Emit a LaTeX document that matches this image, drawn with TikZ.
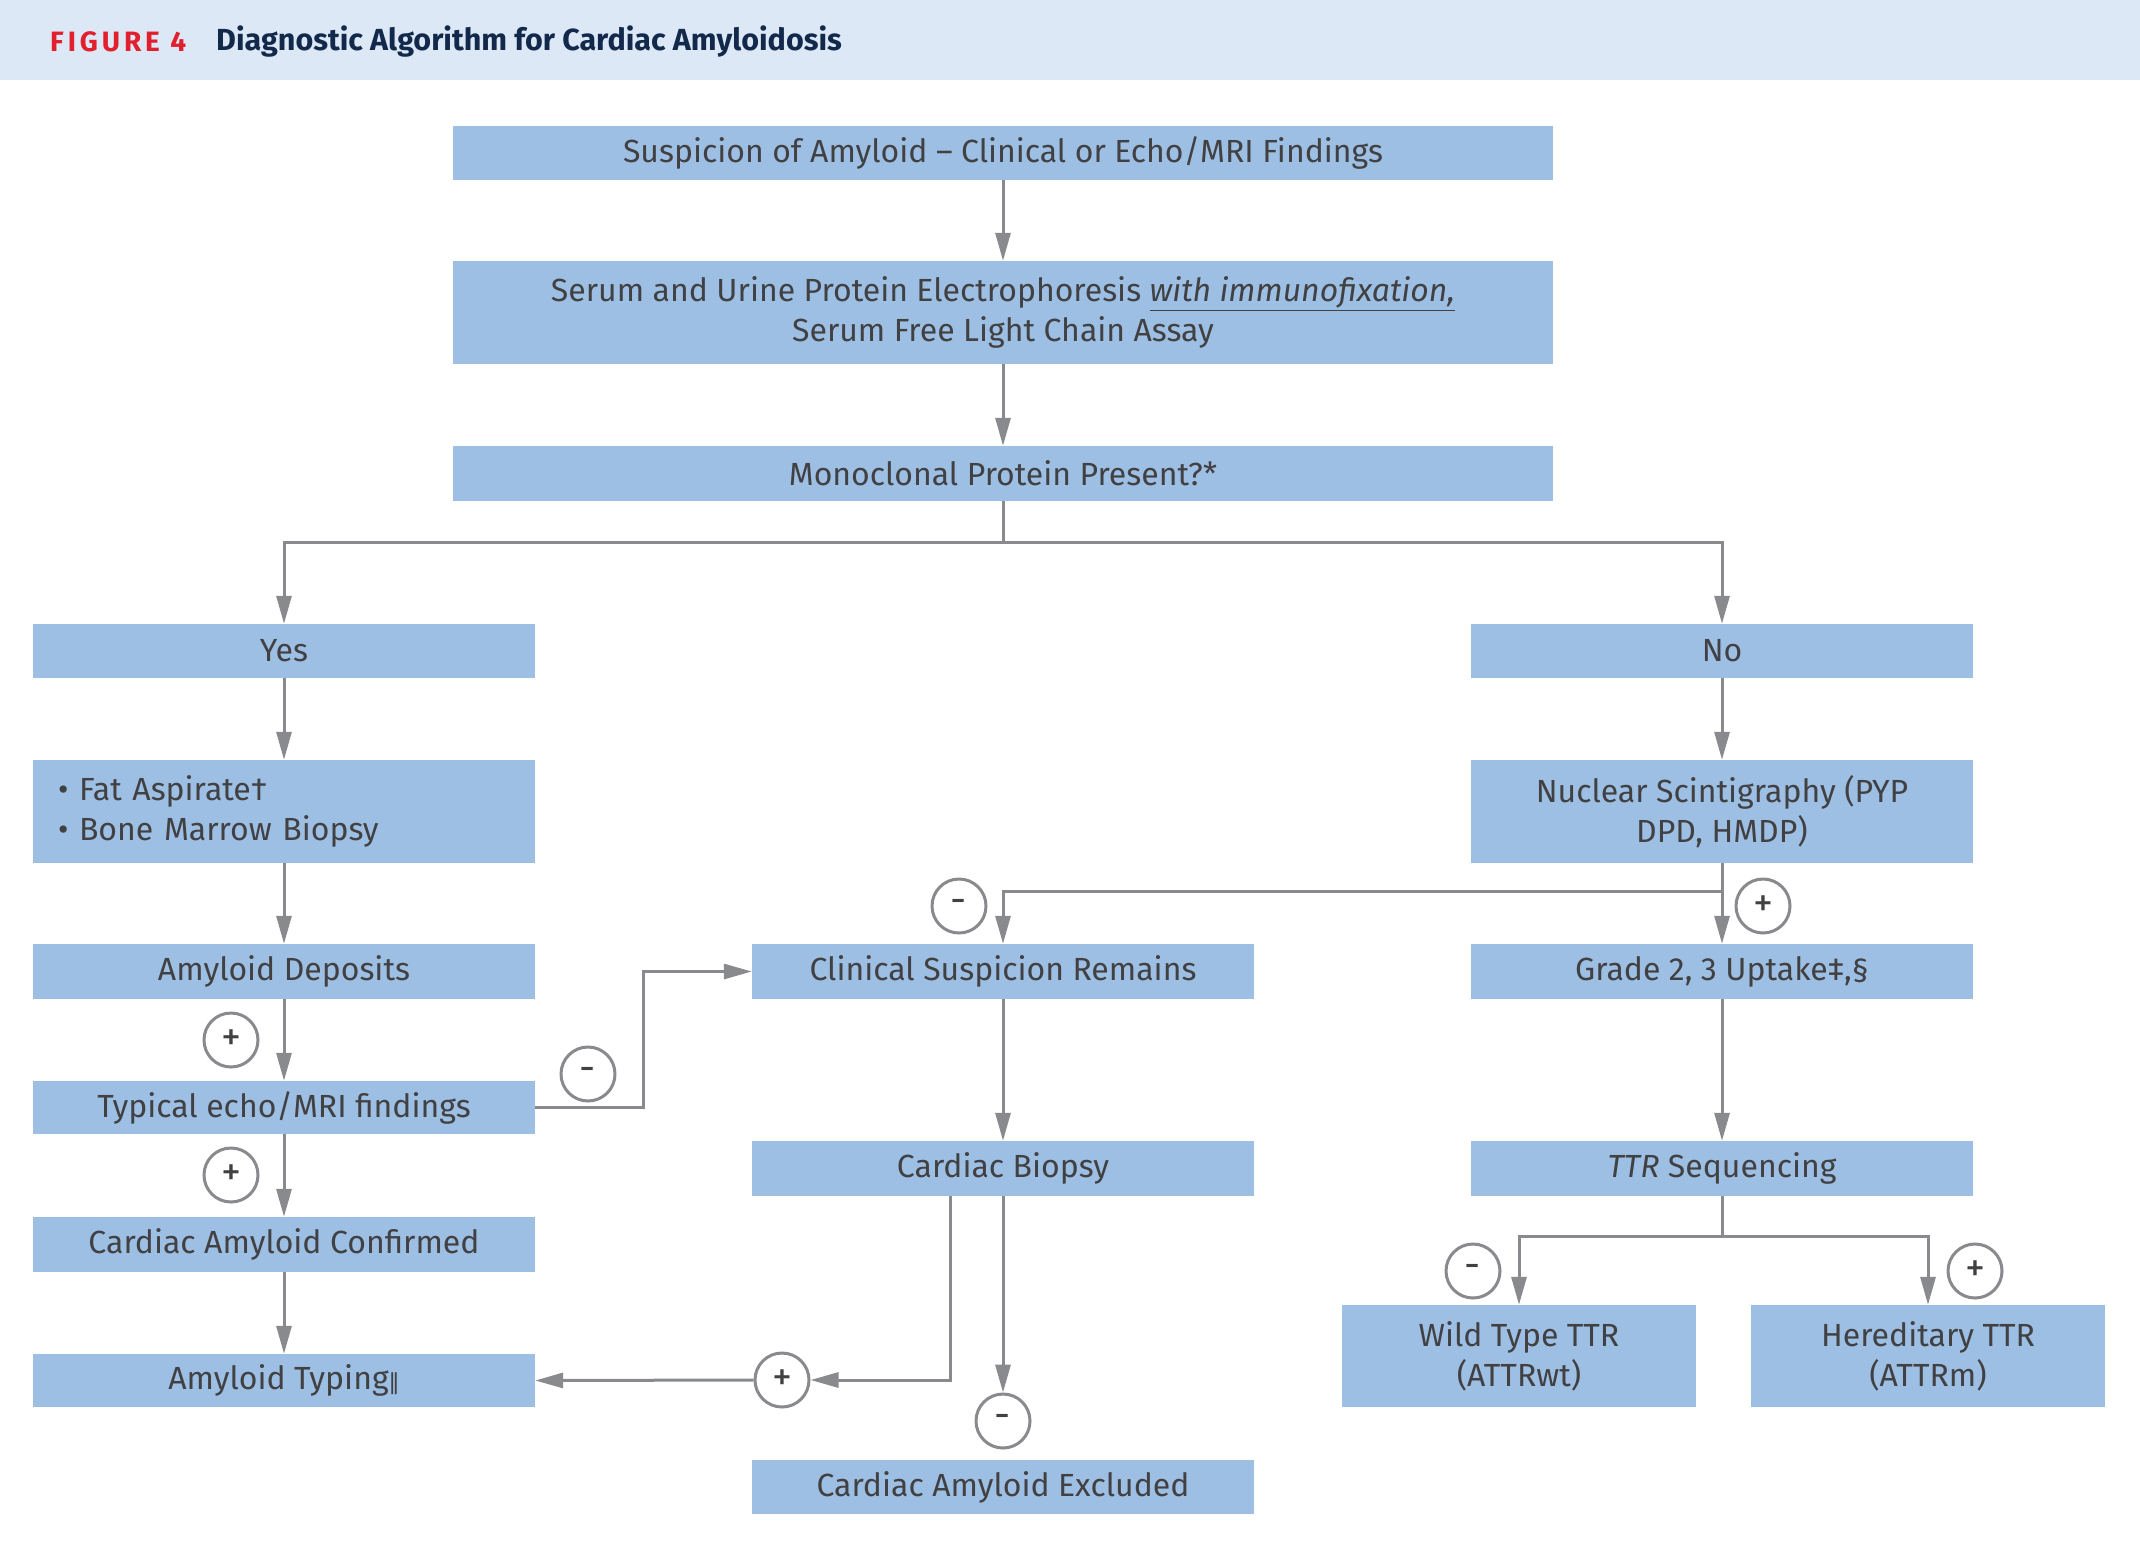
\documentclass[tikz,border=0pt]{standalone}
\usepackage{fontspec}
\setmainfont{Fira Sans}
\newfontfamily\symfont{DejaVu Sans}
\usetikzlibrary{arrows.meta,positioning}
\definecolor{boxblue}{HTML}{9DBFE3}
\definecolor{bandblue}{HTML}{DCE8F5}
\definecolor{txtgray}{HTML}{414042}
\definecolor{linegray}{HTML}{898A8D}
\definecolor{figred}{HTML}{E21F2D}
\definecolor{navy}{HTML}{13294B}

\begin{document}
\begin{tikzpicture}[x=1pt,y=-1pt,
      box/.style={fill=boxblue,minimum width=502pt,minimum height=54pt,align=center,inner sep=0pt,text=txtgray,font=\fontsize{32}{40}\selectfont},
      wide/.style={box,minimum width=1100pt},
      sign/.style={circle,draw=linegray,line width=3pt,fill=white,minimum size=54pt,inner sep=0pt,text=txtgray,font=\fontsize{40}{40}\selectfont},
      link/.style={draw=linegray,line width=3pt},
      >={Triangle[length=28pt,width=15pt]}
    ]
      \useasboundingbox (0,0) rectangle (2140,1558);

      % Title band
      \fill[bandblue] (0,0) rectangle (2140,80);
      \node[anchor=west,inner sep=0pt,text=figred,font=\fontsize{28}{28}\selectfont\bfseries\addfontfeature{LetterSpace=14}] (fig) at (50,42) {FIGURE 4};
      \node[anchor=west,inner sep=0pt,text=navy,font=\fontsize{30.5}{30.5}\selectfont\bfseries] (title) at (216,42) {Diagnostic Algorithm for Cardiac Amyloidosis};

      % Common trunk
      \node[wide] (susp) at (1003,153) {Suspicion of Amyloid – Clinical or Echo/MRI Findings};
      \node[wide,minimum height=103pt] (spep) at (1003,312.5) {Serum and Urine Protein Electrophoresis \underline{\itshape with immunofixation,}\\ Serum Free Light Chain Assay};
      \node[wide,minimum height=55pt] (mono) at (1003,473.5) {Monoclonal Protein Present?*};

      % Left column (Yes)
      \node[box] (yes) at (284,651) {Yes};
      \node[box,minimum height=103pt,text width=452pt,align=left] (fat) at (284,811.5) {• Fat Aspirate†\\ • Bone Marrow Biopsy};
      \node[box,minimum height=55pt] (dep) at (284,971.5) {Amyloid Deposits};
      \node[box,minimum height=53pt] (echo) at (284,1107.5) {Typical echo/MRI findings};
      \node[box,minimum height=55pt] (conf) at (284,1244.5) {Cardiac Amyloid Confirmed};
      \node[box,minimum height=53pt] (typing) at (284,1380.5) {Amyloid Typing{\symfont\fontsize{22}{22}\selectfont ‖}};

      % Middle column
      \node[box,minimum height=55pt] (csr) at (1003,971.5) {Clinical Suspicion Remains};
      \node[box,minimum height=55pt] (cbx) at (1003,1168.5) {Cardiac Biopsy};
      \node[box] (excl) at (1003,1487) {Cardiac Amyloid Excluded};

      % Right column (No)
      \node[box] (no) at (1722,651) {No};
      \node[box,minimum height=103pt] (nuc) at (1722,811.5) {Nuclear Scintigraphy (PYP\\ DPD, HMDP)};
      \node[box,minimum height=55pt] (grade) at (1722,971.5) {Grade 2, 3 Uptake‡,§};
      \node[box,minimum height=55pt] (ttr) at (1722,1168.5) {\textit{TTR} Sequencing};
      \node[box,minimum width=354pt,minimum height=102pt] (wild) at (1519,1356) {Wild Type TTR\\ (ATTRwt)};
      \node[box,minimum width=354pt,minimum height=102pt] (hered) at (1928,1356) {Hereditary TTR\\ (ATTRm)};

      % Result signs
      \node[sign] (s1) at (959,906) {-};
      \node[sign] (s2) at (1763,906) {+};
      \node[sign] (s3) at (231,1040) {+};
      \node[sign] (s4) at (231,1175) {+};
      \node[sign] (s5) at (588,1074) {-};
      \node[sign] (s6) at (782,1380) {+};
      \node[sign] (s7) at (1003,1421) {-};
      \node[sign] (s8) at (1473,1271) {-};
      \node[sign] (s9) at (1975,1271) {+};

      % Arrows
      \draw[link,->] (susp) -- (spep);
      \draw[link,->] (spep) -- (mono);
      \draw[link,->] (mono.south) -- ++(0,41) -| (yes.north);
      \draw[link,->] (mono.south) -- ++(0,41) -| (no.north);
      \draw[link,->] (yes) -- (fat);
      \draw[link,->] (fat) -- (dep);
      \draw[link,->] (dep) -- (echo);
      \draw[link,->] (echo) -- (conf);
      \draw[link,->] (conf) -- (typing);
      \draw[link,->] (echo.east) -- ++(108,0) |- (csr.west);
      \draw[link,->] (no) -- (nuc);
      \draw[link,->] (nuc) -- (grade);
      \draw[link,->] (nuc.south) -- ++(0,28) -| (csr.north);
      \draw[link,->] (grade) -- (ttr);
      \draw[link,->] (csr) -- (cbx);
      \draw[link,->] ([xshift=-53pt]cbx.south) |- (s6.east);
      \draw[link,->] (s6.west) -- (typing.east);
      \draw[link,->] (cbx.south) -- (s7.north);
      \draw[link,->] (ttr.south) -- ++(0,40) -| (wild.north);
      \draw[link,->] (ttr.south) -- ++(0,40) -| (hered.north);
    \end{tikzpicture}
\end{document}
